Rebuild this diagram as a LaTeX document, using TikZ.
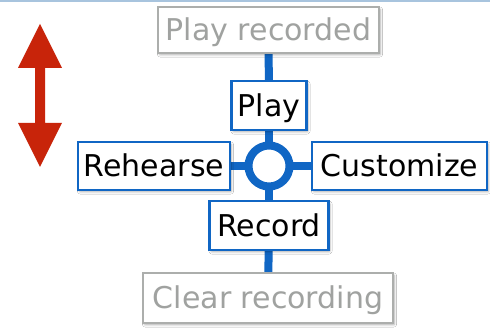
\documentclass[tikz,border=0pt]{standalone}
\usepackage{fontspec}
\setmainfont{DejaVu Sans}
\usetikzlibrary{shadows.blur,backgrounds}

\definecolor{linkblue}{RGB}{16,102,196}
\definecolor{framegray}{RGB}{172,174,172}
\definecolor{textgray}{RGB}{160,162,160}
\definecolor{arrowred}{RGB}{200,36,10}
\definecolor{topline}{RGB}{168,196,222}

\tikzset{
  mode/.style={draw=linkblue, line width=2.4pt, fill=white, inner sep=0pt,
    font=\fontsize{30}{30}\selectfont, text=black,
    text height=21.5pt, text depth=0pt,
    blur shadow={shadow xshift=1.5pt, shadow yshift=-2pt, shadow blur steps=5,
      shadow blur extra rounding=1pt, shadow opacity=30}},
  faded/.style={mode, draw=framegray, line width=2.8pt, text=textgray},
  link/.style={draw=linkblue, line width=8pt},
  hubring/.style={circle, draw=linkblue, line width=8pt, fill=white,
    minimum size=41pt, inner sep=0pt}
}

\begin{document}
\begin{tikzpicture}[x=1pt, y=1pt]
  \useasboundingbox (0,0) rectangle (490,328);

  % mode boxes
  \node[faded, minimum width=221pt, minimum height=46pt] (prec) at (268.5,298) {Play recorded};
  \node[mode, minimum width=75pt, minimum height=49pt] (play) at (269,222.5) {Play};
  \node[mode, minimum width=152pt, minimum height=48pt] (reh) at (154,162) {Rehearse};
  \node[hubring] (hub) at (269,162) {};
  \node[mode, minimum width=175pt, minimum height=48pt] (cust) at (399.5,162) {Customize};
  \node[mode, minimum width=119pt, minimum height=49pt] (rec) at (269,102.5) {Record};
  \node[faded, minimum width=250pt, minimum height=50pt] (clr) at (268,30) {Clear recording};

  \begin{scope}[on background layer]
    % white page and thin rule along the top edge
    \fill[white] (0,0) rectangle (490,328);
    \fill[topline] (0,326) rectangle (490,328);
    % connectors behind the boxes
    \draw[link] (prec.center) -- (play.center);
    \draw[link] (play.center) -- (hub.center);
    \draw[link] (hub.center) -- (rec.center);
    \draw[link] (rec.center) -- (clr.center);
    \draw[link] (reh.center) -- (hub.center);
    \draw[link] (hub.center) -- (cust.center);
  \end{scope}

  % double-headed up/down arrow
  \fill[arrowred] (40,304) -- (62,260) -- (45,260) -- (45,205) -- (62,205)
    -- (40,161) -- (18,205) -- (35,205) -- (35,260) -- (18,260) -- cycle;
\end{tikzpicture}
\end{document}
